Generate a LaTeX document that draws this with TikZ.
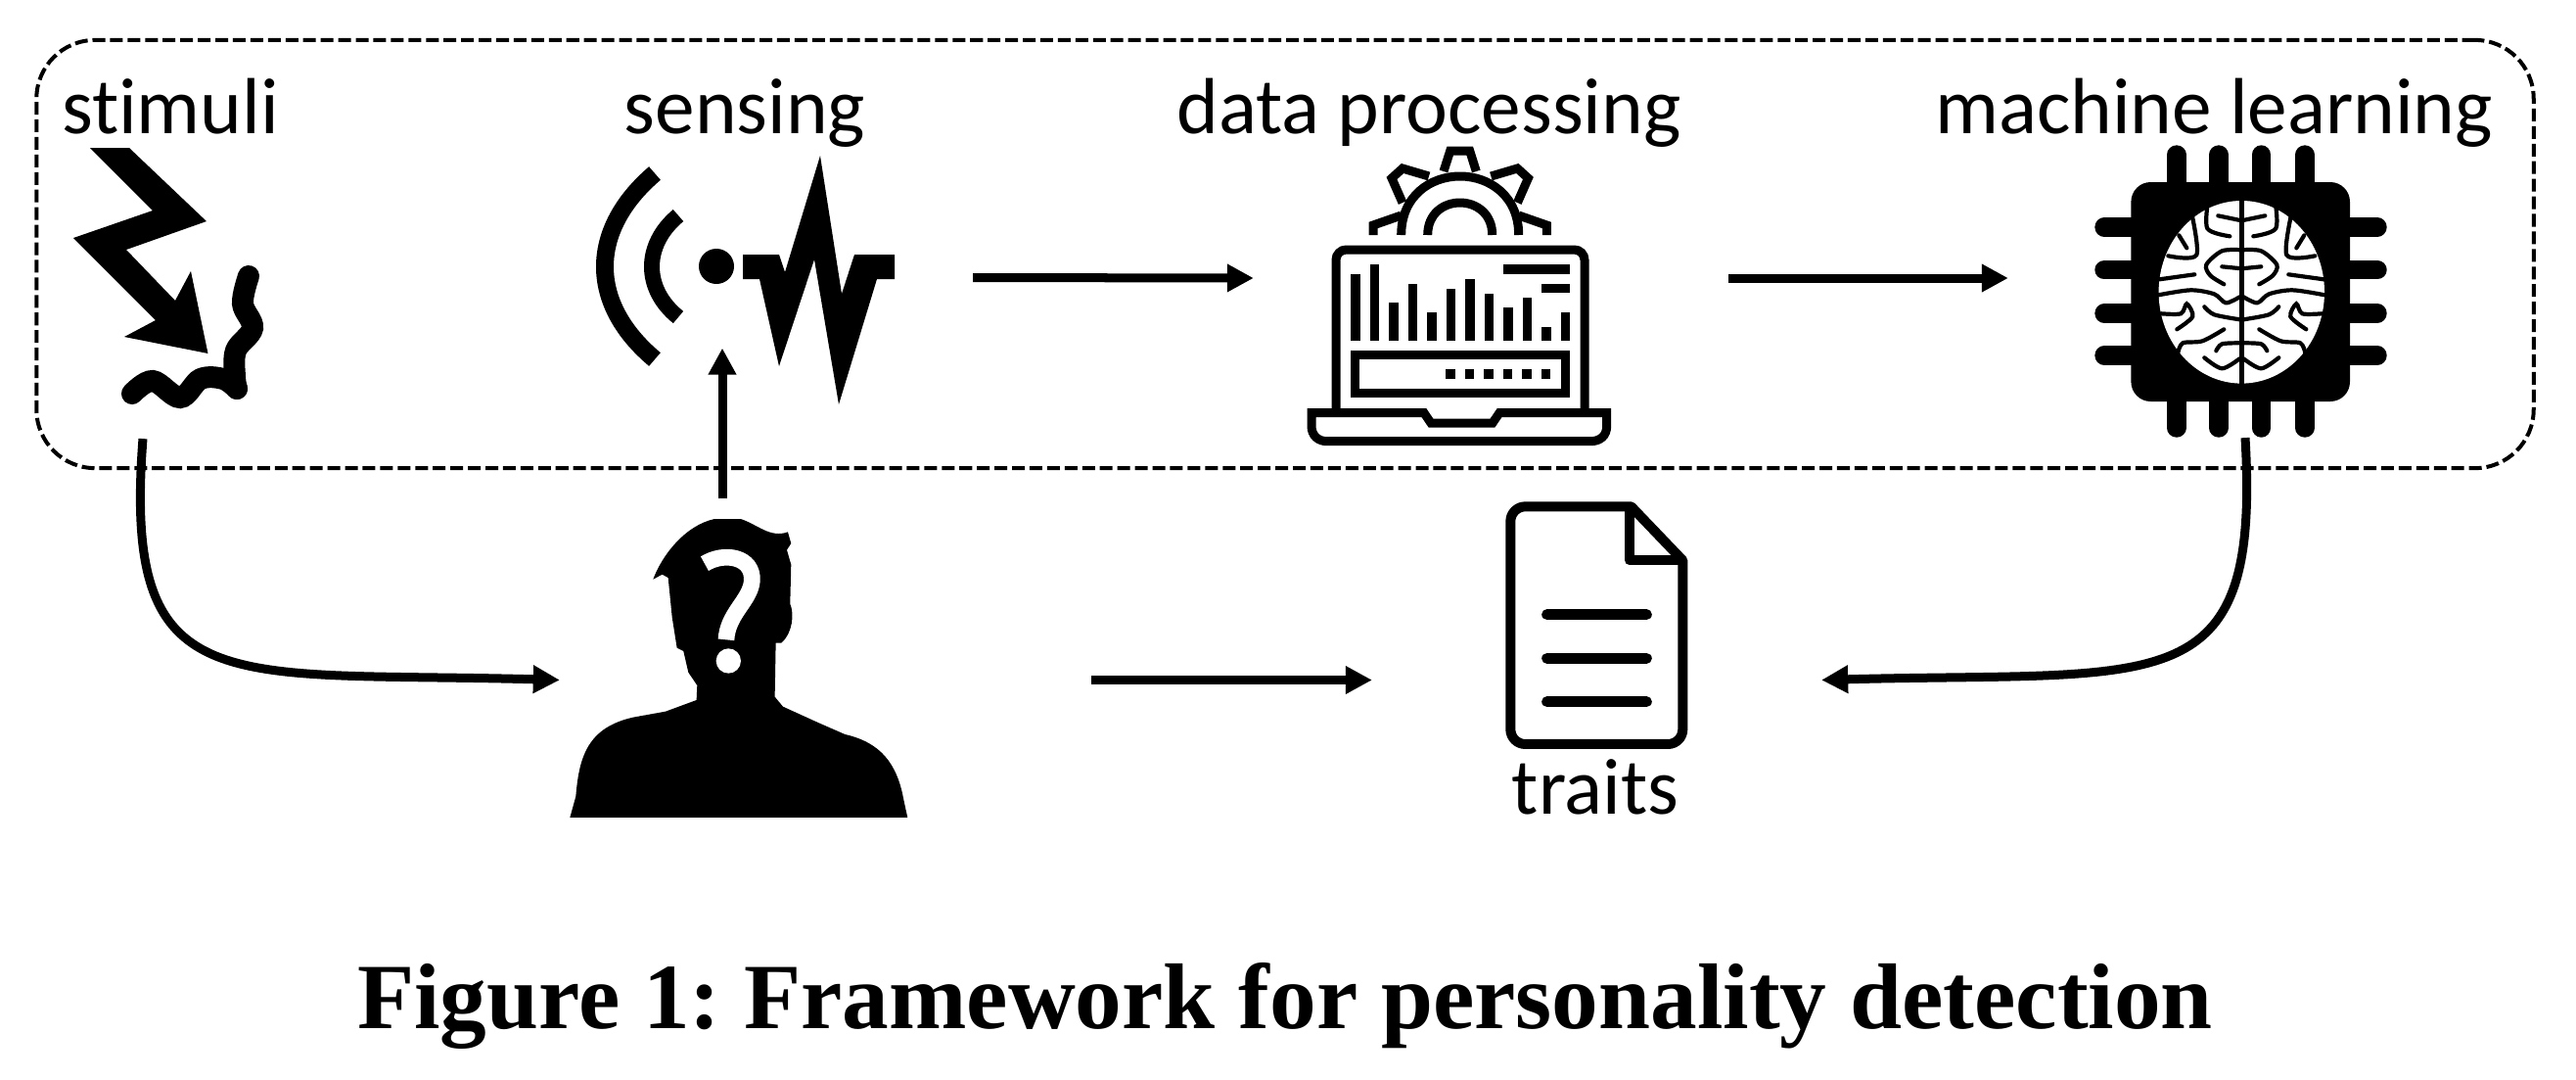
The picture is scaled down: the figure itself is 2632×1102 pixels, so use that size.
\documentclass[tikz,border=0pt]{standalone}
\usepackage{fontspec}
\setmainfont{Carlito}[Ligatures=NoCommon]
\newfontfamily\capfont{Liberation Serif}
\usetikzlibrary{arrows.meta,positioning,calc}
\tikzset{
    steplabel/.style={inner sep=0pt, anchor=base, font=\fontsize{23.1}{27}\selectfont},
    iconframe/.style={inner sep=0pt, outer sep=0pt},
    flow/.style={-{Triangle[length=0.27cm,width=0.27cm]}, line width=0.09cm},
    ink/.style={line width=0.09cm}
}
\begin{document}
\begin{tikzpicture}[x=0.01cm,y=-0.01cm]
    \useasboundingbox (0,0) rectangle (2632,1102);

    % Dashed group
    \node[draw, dashed, dash pattern=on 3.7pt off 1.4pt, line width=0.04cm, rounded corners=0.6cm, inner sep=0pt, outer sep=0pt, minimum width=25.5cm, minimum height=4.37cm] (group) at (1313,259.5) {};

    % Labels
    \node[steplabel] (stimlabel) at (174,136) {stimuli};
    \node[steplabel] (senslabel) at (761,136) {sensing};
    \node[steplabel] (datalabel) at (1460,136) {data processing};
    \node[steplabel] (mllabel) at (2262,136) {machine learning};
    \node[steplabel] (traitlabel) at (1630,831) {traits};
    \node[inner sep=0pt, anchor=base, font=\capfont\bfseries\fontsize{27.1}{31}\selectfont] (caption) at (1313,1050) {\frenchspacing Figure 1: Framework for personality detection};

    % Frames the arrows attach to
    \node[iconframe, minimum width=2cm, minimum height=2.9cm] (stimuli) at (146,303) {};
    \node[iconframe, minimum width=5.12cm, minimum height=1.44cm] (sensing) at (738,283.5) {};
    \node[iconframe, minimum width=4.85cm, minimum height=3cm] (data) at (1523.5,284) {};
    \node[iconframe, minimum width=4.84cm, minimum height=3.26cm] (learning) at (2294,284) {};
    \node[iconframe, minimum width=5.43cm, minimum height=3.7cm] (person) at (843.5,694.5) {};
    \node[iconframe, minimum width=4.59cm, minimum height=3cm] (traits) at (1631.5,694.5) {};

    % Stimuli icon
    \fill (92,151) -- (132,151) -- (211,226) -- (129,255) -- (179,307) -- (195,277) -- (212.5,361) -- (127,344) -- (159,327) -- (75,243) -- (156,215) -- cycle;
    \draw[line width=0.22cm, line cap=round] plot[smooth, tension=0.6] coordinates {(254,282) (248,310) (258,335) (241,358) (240,385) (242,397)};
    \draw[line width=0.22cm, line cap=round] plot[smooth, tension=0.6] coordinates {(135,402) (156,389) (184,406) (205,387) (228,387) (242,397)};

    % Sensing icon
    \draw[line width=0.18cm] (669,177) .. controls (601,235) and (601,310) .. (669,367);
    \draw[line width=0.16cm] (693,220) .. controls (657,250) and (657,295) .. (693,324);
    \fill (732,272) circle (18);
    \fill (759,260) -- (796,260) -- (802,278) -- (838,159) -- (860,300) -- (873,260) -- (914,260) -- (914,285) -- (896,285) -- (857,413) -- (832,265) -- (796,374) -- (776,285) -- (759,285) -- cycle;

    % Laptop icon
    \draw[ink, rounded corners=3pt] (1365,424) -- (1365,255) -- (1619,255) -- (1619,424);
    \foreach \barx/\bartop in {0/280, 1/270, 2/309, 3/290, 4/319, 5/295, 6/285, 7/300, 8/314, 9/304, 10/334, 11/319} {
        \fill (1380+19.5*\barx,\bartop) rectangle (1389.7+19.5*\barx,347.7);
    }
    \fill (1536,270) rectangle (1604,280);
    \fill (1575,290) rectangle (1604,299);
    \draw[ink] (1384.5,362.7) rectangle (1599.5,401.7);
    \foreach \dotx in {0,...,5} {
        \fill (1477.3+19.5*\dotx,377.3) rectangle (1486.8+19.5*\dotx,386.7);
    }
    \draw[ink] (1340,421.7) -- (1455,421.7) -- (1462,432) -- (1525,432) -- (1532,421.7) -- (1641.7,421.7) -- (1641.7,435) .. controls (1641.7,445) and (1635,450.7) .. (1625,450.7) -- (1356,450.7) .. controls (1347,450.7) and (1340,445) .. (1340,435) -- cycle;

    % Gear
    \draw[ink] (1458.7,240) .. controls (1458.7,196) and (1524.7,196) .. (1524.7,240);
    \draw[ink] (1431.7,240) .. controls (1431.7,160) and (1551.7,160) .. (1551.7,240);
    \draw[ink] (1475,175) -- (1481.7,154) -- (1501.7,154) -- (1508.3,175);
    \draw[ink] (1460,180) -- (1433,172) -- (1422,182) -- (1433,207);
    \draw[ink] (1523.4,180) -- (1550.4,172) -- (1561.4,182) -- (1550.4,207);
    \draw[ink] (1431.7,220) -- (1403,230) -- (1403,240);
    \draw[ink] (1551.7,220) -- (1580.4,230) -- (1580.4,240);

    % Chip with brain
    \foreach \pinx in {2223.8,2267,2310.5,2355} {
        \draw[line width=0.194cm, line cap=round] (\pinx,158) -- (\pinx,437);
    }
    \foreach \piny in {232,275.7,320,363} {
        \draw[line width=0.194cm, line cap=round] (2150,\piny) -- (2429,\piny);
    }
    \fill[rounded corners=0.2cm] (2177.4,186) rectangle (2401,410);
    \fill[white] (2290.3,298.3) ellipse (84.7 and 93.3);
    \draw[line width=0.05cm] (2290.3,205) -- (2290.3,392);
    \foreach \side in {1,-1} {
        \begin{scope}[shift={(2290.3,298.3)}, xscale=\side, line width=0.042cm, line cap=round]
            \draw plot[smooth] coordinates {(34,-95) (35,-65) (12,-57)};
            \draw plot[smooth] coordinates {(0,-73) (24,-78)};
            \draw plot[smooth] coordinates {(0,-43) (20,-42) (36,-28) (32,-17) (18,-8)};
            \draw plot[smooth] coordinates {(0,-24) (20,-26)};
            \draw plot[smooth] coordinates {(2,5) (16,11) (28,2) (52,-2) (85,3)};
            \draw plot[smooth] coordinates {(52,-85) (46,-38) (75,-37)};
            \draw plot[smooth] coordinates {(64,-58) (56,-45)};
            \draw plot[smooth] coordinates {(48,-18) (84,-13)};
            \draw plot[smooth] coordinates {(2,28) (28,23) (38,15)};
            \draw plot[smooth] coordinates {(82,22) (62,22) (56,12) (50,25) (66,38)};
            \draw plot[smooth] coordinates {(18,38) (40,50) (60,52) (65,62)};
            \draw plot[smooth] coordinates {(2,52) (20,53) (26,60)};
            \draw plot[smooth] coordinates {(2,68) (20,78) (38,67)};
        \end{scope}
    }

    % Person icon
    \begin{scope}[shift={(500,480)}, scale=0.3333]
        \fill (247,1065) -- (265,1000) .. controls (275,880) and (300,790) .. (440,758) -- (540,740) -- (635,705) -- (637,660) -- (610,620) -- (595,555) -- (575,545) -- (560,450) -- (548,330) -- (530,320) -- (502,335) .. controls (530,260) and (600,170) .. (690,150) -- (770,150) .. controls (820,165) and (860,210) .. (915,190) -- (925,225) -- (912,245) -- (925,290) -- (922,410) .. controls (935,440) and (930,500) .. (895,530) -- (878,530) -- (875,695) -- (900,725) -- (1010,775) -- (1090,810) .. controls (1200,835) and (1250,900) .. (1270,1010) -- (1282,1065) -- cycle;
        \draw[white, line width=0.167cm] (660,287) .. controls (720,250) and (810,265) .. (805,340) .. controls (800,400) and (730,440) .. (726,520);
        \fill[white] (733,585) circle (38);
    \end{scope}

    % Document icon
    \begin{scope}[shift={(1450,480)}, scale=0.3333]
        \draw[line width=0.1cm, line join=round] (808,277) [rounded corners=4.3pt] -- (808,840) -- (280,840) -- (280,112) [sharp corners] -- (650,112) -- cycle;
        \draw[line width=0.1cm, line join=round] (645,112) -- (645,277) -- (808,277);
        \foreach \liney in {443,577,710} {
            \draw[line width=0.11cm, line cap=round] (392,\liney) -- (697,\liney);
        }
    \end{scope}

    % Arrows
    \draw[flow] (sensing.east) -- (data.west);
    \draw[flow] (data.east) -- (learning.west);
    \draw[flow] (person.north -| sensing.south) -- (sensing.south);
    \draw[flow] (person.east) -- (traits.west);
    \draw[flow] (stimuli.south) .. controls (125,720) and (230,685) .. (person.west);
    \draw[flow] (learning.south) .. controls (2310,720) and (2210,685) .. (traits.east);
\end{tikzpicture}
\end{document}
